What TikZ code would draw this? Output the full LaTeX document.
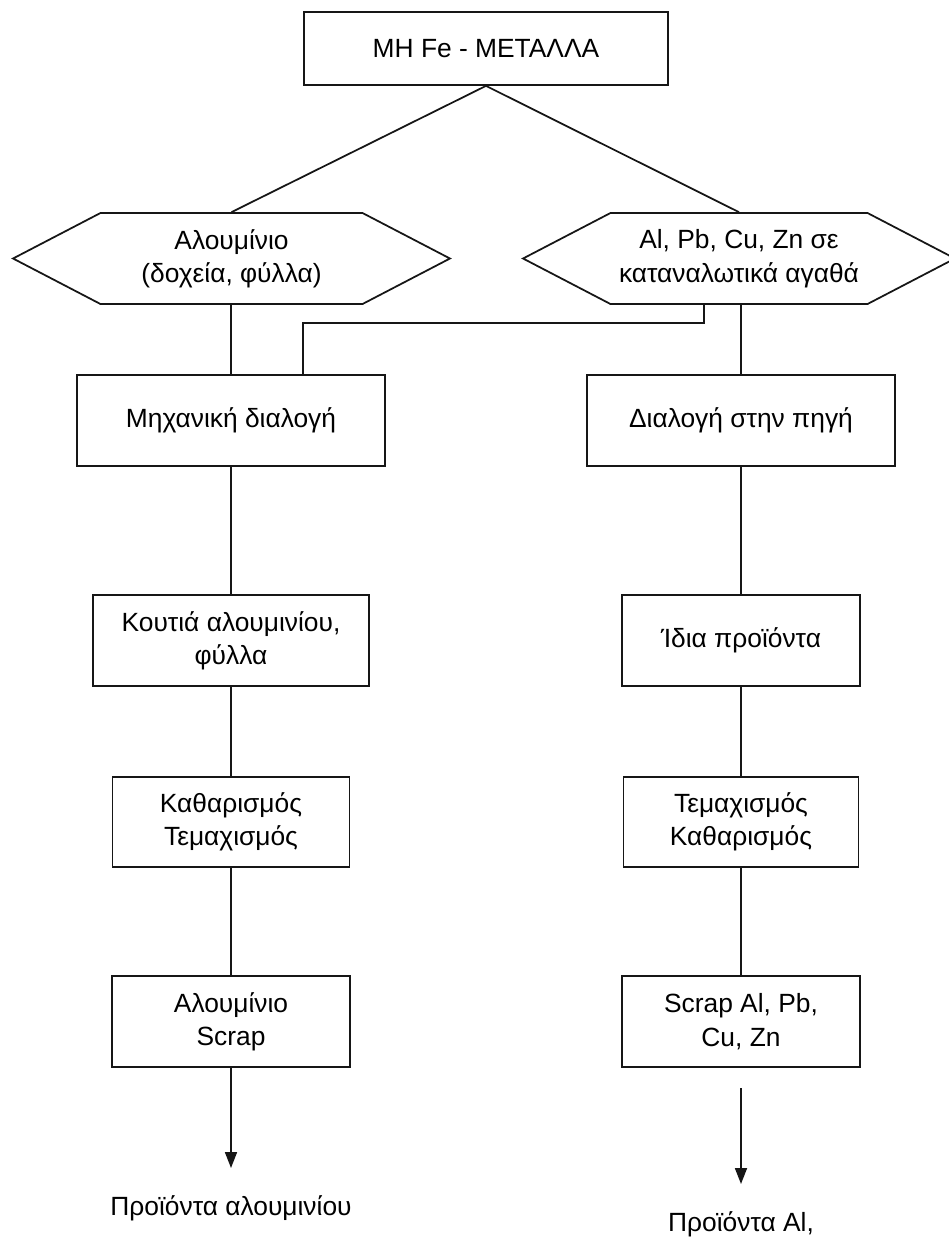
\documentclass[tikz,border=0pt]{standalone}
\usepackage{fontspec}
\setmainfont{Liberation Sans}
\usepackage{xcolor}
\usetikzlibrary{arrows.meta,shapes.symbols}
\definecolor{ink}{HTML}{161616}
\tikzset{
  block/.style={draw=ink, fill=white, line width=1pt, align=center,
                inner sep=3pt, font=\fontsize{15}{19}\selectfont},
  hexa/.style={block, shape=signal, signal to=west and east,
               signal pointer angle=55},
  link/.style={draw=ink, line width=1pt},
  arrow/.style={link, -{Triangle[length=0.32cm,width=0.24cm]}},
  label/.style={align=center, inner sep=2pt, font=\fontsize{15}{19}\selectfont}
}
\begin{document}
\begin{tikzpicture}[x=0.02cm,y=-0.02cm]
  \useasboundingbox (0,0) rectangle (949,1242);

  % top
  \node[block, minimum width=7.28cm, minimum height=1.46cm] (metals) at (486,48.5) {MH Fe - METAΛΛA};

  % two branches
  \node[hexa, minimum width=8.74cm, minimum height=1.82cm] (alum) at (231.5,258.5)
    {Αλουμίνιο\\(δοχεία, φύλλα)};
  \node[hexa, minimum width=8.64cm, minimum height=1.82cm] (goods) at (739,258.5)
    {Al, Pb, Cu, Zn σε\\καταναλωτικά αγαθά};

  % left column
  \node[block, minimum width=6.16cm, minimum height=1.82cm] (mech) at (231,420.5) {Μηχανική διαλογή};
  \node[block, minimum width=5.52cm, minimum height=1.82cm] (cans) at (231,640.5) {Κουτιά αλουμινίου,\\φύλλα};
  \node[block, minimum width=4.74cm, minimum height=1.80cm] (cleanA) at (231,822) {Καθαρισμός\\Τεμαχισμός};
  \node[block, minimum width=4.76cm, minimum height=1.82cm] (scrapA) at (231,1021.5) {Αλουμίνιο\\Scrap};
  \node[label] (prodA) at (231,1208) {Προϊόντα αλουμινίου};

  % right column
  \node[block, minimum width=6.16cm, minimum height=1.82cm] (source) at (741,420.5) {Διαλογή στην πηγή};
  \node[block, minimum width=4.76cm, minimum height=1.82cm] (same) at (741,640.5) {Ίδια προϊόντα};
  \node[block, minimum width=4.70cm, minimum height=1.80cm] (shredB) at (741,822) {Τεμαχισμός\\Καθαρισμός};
  \node[block, minimum width=4.76cm, minimum height=1.82cm] (scrapB) at (741,1021.5) {Scrap Al, Pb,\\Cu, Zn};
  \node[label] (prodB) at (741,1224) {Προϊόντα Al,};

  \coordinate (tipA) at (231,1168);
  \coordinate (startB) at (741,1088);
  \coordinate (tipB) at (741,1184);

  % connectors
  \draw[link] (metals.south) -- (alum.north);
  \draw[link] (metals.south) -- (goods.north);
  \draw[link] (alum.south -| mech.north) -- (mech.north);
  \draw[link] (goods.south -| source.north) -- (source.north);
  \draw[link] ([xshift=-0.70cm]goods.south) -- ++(0,18) -| ([xshift=1.44cm]mech.north);
  \draw[link] (mech) -- (cans);
  \draw[link] (cans) -- (cleanA);
  \draw[link] (cleanA) -- (scrapA);
  \draw[link] (source) -- (same);
  \draw[link] (same) -- (shredB);
  \draw[link] (shredB) -- (scrapB);
  \draw[arrow] (scrapA.south) -- (tipA);
  \draw[arrow] (startB) -- (tipB);
\end{tikzpicture}
\end{document}
